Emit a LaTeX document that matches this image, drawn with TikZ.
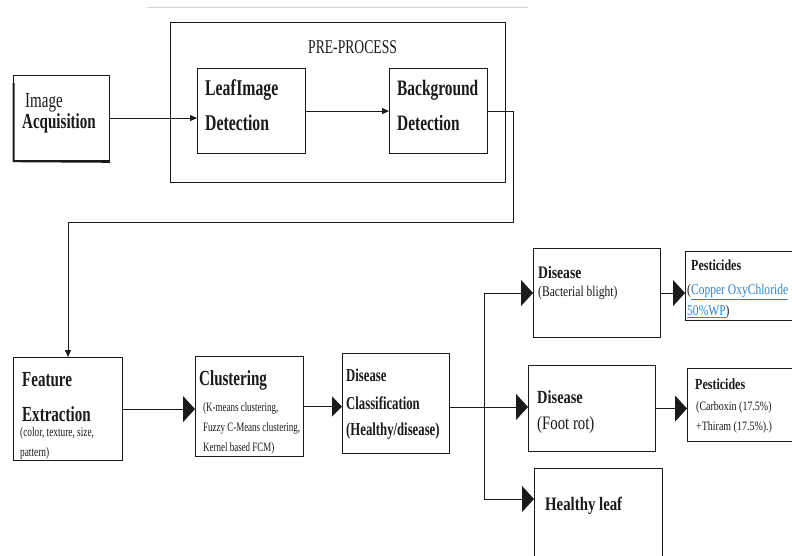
\documentclass[tikz,border=0pt]{standalone}
\usepackage{fontspec}
\setmainfont{Liberation Serif}
\newfontfamily\tnr[FakeStretch=0.7]{Liberation Serif}
\newfontfamily\cam[FakeStretch=0.78]{Liberation Serif}
\usetikzlibrary{arrows.meta,calc}
\definecolor{inkc}{HTML}{1A1A1A}
\definecolor{linkblue}{HTML}{2E86C8}
\tikzset{
  box/.style={draw=inkc,line width=1.1pt,anchor=north west,inner sep=0pt},
  txt/.style={anchor=west,inner sep=0pt,text=inkc},
  conn/.style={draw=inkc,line width=1pt},
  smallarr/.style={conn,-{Triangle[length=7pt,width=6pt]}},
  bigarr/.style={conn,-{Triangle[length=12pt,width=26pt]}},
  midarr/.style={conn,-{Triangle[length=10pt,width=20pt]}}
}
\begin{document}
\begin{tikzpicture}[x=1pt,y=-1pt]
\useasboundingbox (0,0) rectangle (792,555);
\fill[white] (0,0) rectangle (792,555);
\clip (0,0) rectangle (792,555);
% top faint line
\draw[gray!35,line width=1pt] (148,7) -- (528,7);
% pre-process frame
\node[box,minimum width=335pt,minimum height=160pt] (pre) at (170,22) {};
\node[txt,font=\tnr\fontsize{19.5}{21}\selectfont] (pret) at (308,47) {PRE-PROCESS};
% image acquisition
\node[box,minimum width=96pt,minimum height=85pt] (ia) at (13,75) {};
\draw[inkc,line width=2.2pt] (ia.north west) ++(0.6,8) -- ($(ia.south west)+(0.6,0)$) -- ($(ia.south east)+(0,0.6)$);
\node[txt,font=\tnr\fontsize{21.5}{23}\selectfont] (iat1) at (25,103) {Image};
\node[txt,font=\tnr\bfseries\fontsize{21.5}{23}\selectfont] (iat2) at (22,123) {Acquisition};
% leaf image detection
\node[box,minimum width=108pt,minimum height=85pt] (leaf) at (197,68) {};
\node[txt,font=\tnr\bfseries\fontsize{22.5}{24}\selectfont] (leaft1) at (205,90) {Leaf\kern0.5pt Image};
\node[txt,font=\tnr\bfseries\fontsize{22.5}{24}\selectfont] (leaft2) at (205,123) {Detection};
% background detection
\node[box,minimum width=98pt,minimum height=85pt] (bg) at (389,68) {};
\node[txt,font=\tnr\bfseries\fontsize{22}{24}\selectfont] (bgt1) at (397,90) {Background};
\node[txt,font=\tnr\bfseries\fontsize{22}{24}\selectfont] (bgt2) at (397,123) {Detection};
% feature extraction
\node[box,minimum width=109pt,minimum height=103pt] (feat) at (13,357) {};
\node[txt,font=\tnr\bfseries\fontsize{21.5}{23}\selectfont] (ft1) at (22,380) {Feature};
\node[txt,font=\tnr\bfseries\fontsize{21.5}{23}\selectfont] (ft2) at (22,414) {Extraction};
\node[txt,font=\tnr\fontsize{13.3}{15}\selectfont] (ft3) at (20,433) {(color, texture, size,};
\node[txt,font=\tnr\fontsize{13.3}{15}\selectfont] (ft4) at (20,453) {pattern)};
% clustering
\node[box,minimum width=108pt,minimum height=100pt] (clus) at (195,356) {};
\node[txt,font=\tnr\bfseries\fontsize{21.5}{23}\selectfont] (ct1) at (199,380) {Clustering};
\node[txt,font=\tnr\fontsize{12.8}{14}\selectfont] (ct2) at (203,408) {(K-means clustering,};
\node[txt,font=\tnr\fontsize{12.8}{14}\selectfont] (ct3) at (203,428) {Fuzzy C-Means clustering,};
\node[txt,font=\tnr\fontsize{12.8}{14}\selectfont] (ct4) at (203,448) {Kernel based FCM)};
% disease classification
\node[box,minimum width=107pt,minimum height=100pt] (dc) at (342,353) {};
\node[txt,font=\tnr\bfseries\fontsize{18.2}{20}\selectfont] (dct1) at (346,375) {Disease};
\node[txt,font=\tnr\bfseries\fontsize{18.2}{20}\selectfont] (dct2) at (346,403) {Classification};
\node[txt,font=\tnr\bfseries\fontsize{18.2}{20}\selectfont] (dct3) at (346,431) {(Healthy/disease)};
% bacterial blight
\node[box,minimum width=127pt,minimum height=89pt] (bact) at (533,248) {};
\node[txt,font=\cam\bfseries\fontsize{17.5}{19}\selectfont] (bt1) at (538,273) {Disease};
\node[txt,font=\cam\fontsize{14.8}{16}\selectfont] (bt2) at (538,293) {(Bacterial blight)};
% pesticides 1
\node[box,minimum width=130pt,minimum height=69pt] (p1) at (685,251) {};
\node[txt,font=\cam\bfseries\fontsize{15.4}{17}\selectfont] (p1t1) at (691,265) {Pesticides};
\node[txt,font=\cam\fontsize{14.8}{16}\selectfont] (p1t2) at (687,292) {(\textcolor{linkblue}{\underline{Copper OxyChloride}}};
\node[txt,font=\cam\fontsize{14.8}{16}\selectfont] (p1t3) at (687,312) {\textcolor{linkblue}{\underline{50\%WP}})};
% foot rot
\node[box,minimum width=127pt,minimum height=86pt] (foot) at (528,365) {};
\node[txt,font=\cam\bfseries\fontsize{18.5}{20}\selectfont] (frt1) at (537,397) {Disease};
\node[txt,font=\cam\fontsize{19}{21}\selectfont] (frt2) at (537,425) {(Foot rot)};
% pesticides 2
\node[box,minimum width=130pt,minimum height=73pt] (p2) at (687,368) {};
\node[txt,font=\cam\bfseries\fontsize{15.4}{17}\selectfont] (p2t1) at (695,384) {Pesticides};
\node[txt,font=\cam\fontsize{12.8}{14}\selectfont] (p2t2) at (696,407) {(Carboxin (17.5\%)};
\node[txt,font=\cam\fontsize{12.8}{14}\selectfont] (p2t3) at (696,427) {+Thiram (17.5\%).)};
% healthy leaf
\node[box,minimum width=128pt,minimum height=95pt] (heal) at (534,468) {};
\node[txt,font=\cam\bfseries\fontsize{19}{21}\selectfont] (ht) at (545,506) {Healthy leaf};
% connectors
\draw[smallarr] (ia.east) -- (ia.east -| leaf.west);
\draw[smallarr] (leaf.east) -- (leaf.east -| bg.west);
\coordinate (turn) at (513,222);
\draw[smallarr] (bg.east) -| (turn) -| (feat.north);
\draw[bigarr] (feat.east) -- (feat.east -| clus.west);
\draw[midarr] (clus.east) -- (clus.east -| dc.west);
\coordinate (bt) at (484,293);
\coordinate (bm) at (484,407);
\coordinate (bb) at (484,499);
\draw[conn] (dc.east |- bm) -- (bm);
\draw[conn] (bt) -- (bb);
\draw[bigarr] (bt) -- (bt -| bact.west);
\draw[bigarr] (bm) -- (bm -| foot.west);
\draw[bigarr] (bb) -- (bb -| heal.west);
\draw[bigarr] (bact.east) -- (bact.east -| p1.west);
\draw[bigarr] (foot.east) -- (foot.east -| p2.west);
\end{tikzpicture}
\end{document}
